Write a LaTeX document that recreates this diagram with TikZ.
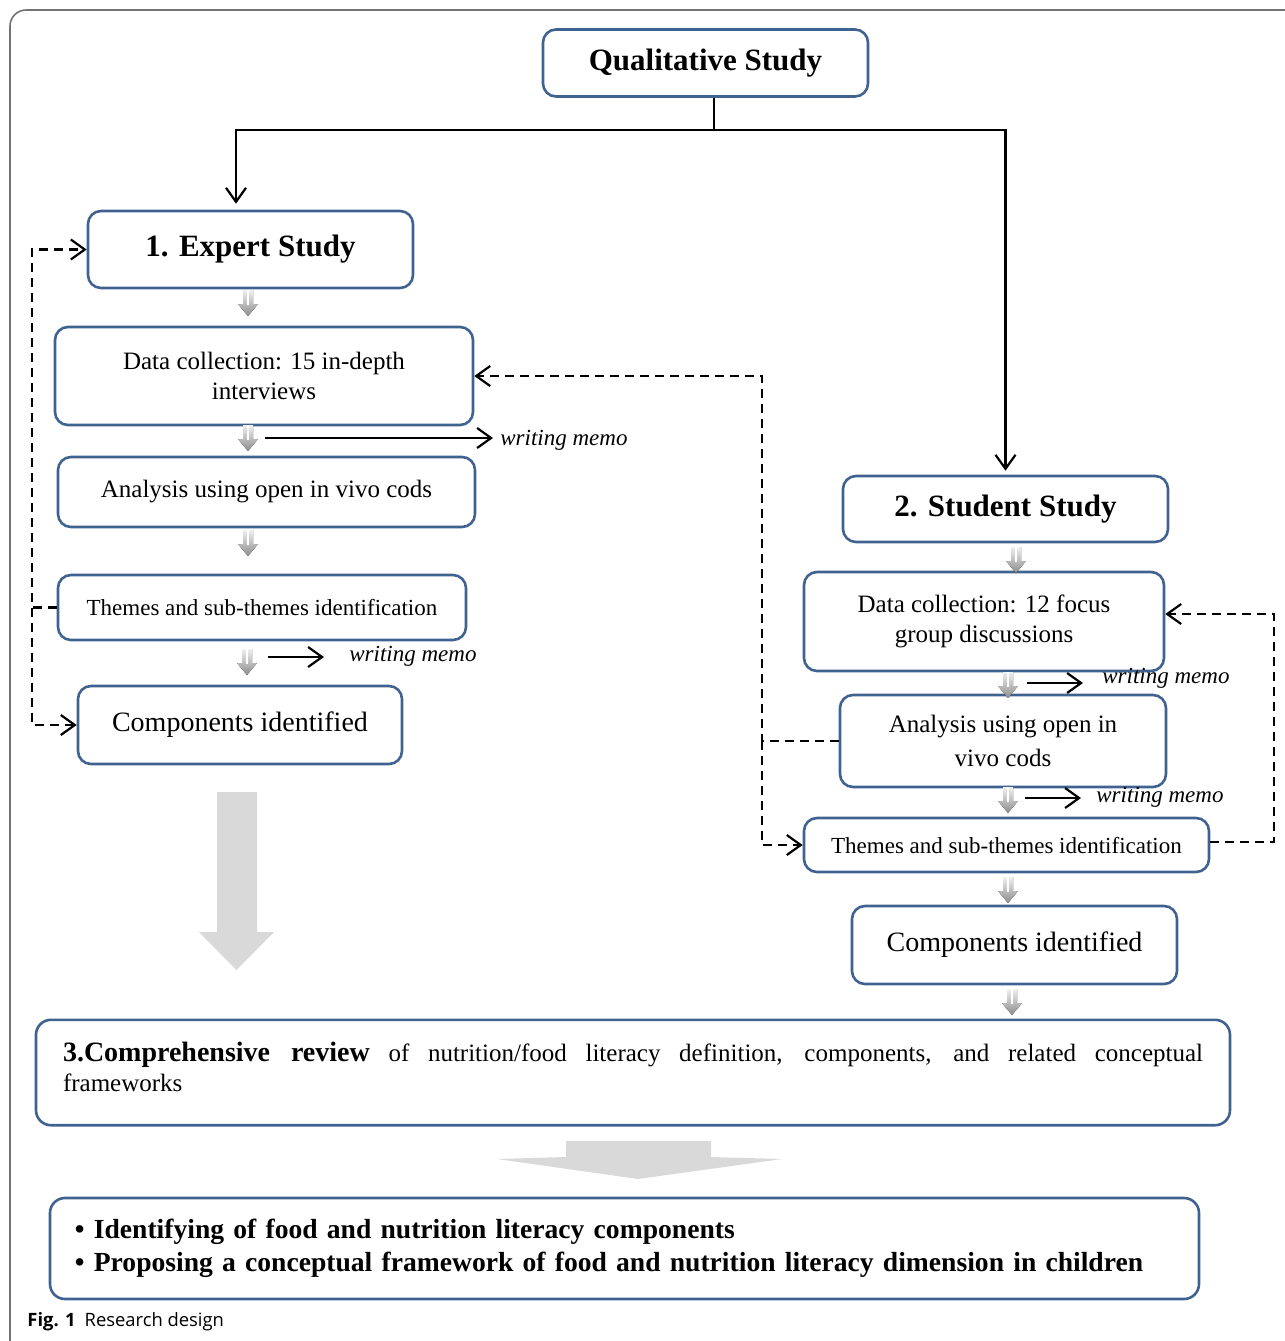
\documentclass[tikz,border=0pt]{standalone}
\usepackage{fontspec}
\setmainfont{Liberation Serif}
\newfontfamily\capfont{Open Sans}
\usepackage{tikz}
\usetikzlibrary{arrows.meta,positioning,calc}
\definecolor{boxblue}{RGB}{64,98,145}

\begin{document}
\begin{tikzpicture}[
  x=0.5pt, y=-0.5pt,
  box/.style={draw=boxblue, line width=1.3pt, rounded corners=6.5pt, align=center, inner sep=2pt},
  title/.style={box, font=\bfseries\fontsize{15.5}{18}\selectfont},
  body/.style={box, font=\fontsize{12.5}{15}\selectfont},
  thm/.style={box, font=\fontsize{11.5}{14}\selectfont},
  comp/.style={box, font=\fontsize{14}{17}\selectfont},
  memo/.style={font=\itshape\fontsize{11.5}{14}\selectfont, inner sep=0pt},
  conn/.style={draw, line width=1.1pt, -{Straight Barb[length=7pt,width=10pt]}},
  dashconn/.style={conn, dash pattern=on 4.5pt off 3pt},
  dnarr/.pic={
    \fill[top color=black!6, bottom color=black!45] (-5,-13) -- (5,-13) -- (5,1) -- (10,1) -- (0,13) -- (-10,1) -- (-5,1) -- cycle;
    \draw[white, line width=0.6pt] (0,-13) -- (0,2);
  }
]
\useasboundingbox (0,0) rectangle (1285,1341);
% outer frame
\draw[black!55, line width=0.8pt, rounded corners=8pt] (10,1400) -- (10,10) -- (1400,10);

% boxes
\node[title, minimum width=162.5pt, minimum height=33.5pt] (qual) at (705.5,63) {Qualitative Study};
\node[title, minimum width=162.5pt, minimum height=38.5pt] (expert) at (250.5,249.5) {1. Expert Study};
\node[body, minimum width=209pt, minimum height=49pt] (dc1) at (264,376) {Data collection: 15 in-depth\\interviews};
\node[body, minimum width=208.5pt, minimum height=35pt] (an1) at (266.5,492) {Analysis using open in vivo cods};
\node[thm, minimum width=204pt, minimum height=32.5pt] (th1) at (262,607.5) {Themes and sub-themes identification};
\node[comp, minimum width=162pt, minimum height=39pt] (comp1) at (240,725) {Components identified};

\node[title, minimum width=162.5pt, minimum height=33pt] (student) at (1005.5,509) {2. Student Study};
\node[body, minimum width=180pt, minimum height=49.5pt] (dc2) at (984,621.5) {Data collection: 12 focus\\group discussions};
\node[body, minimum width=163pt, minimum height=46pt, font=\fontsize{12.5}{17}\selectfont] (an2) at (1003,741) {Analysis using open in\\vivo cods};
\node[thm, minimum width=202.5pt, minimum height=27pt] (th2) at (1006.5,845) {Themes and sub-themes identification};
\node[comp, minimum width=162.5pt, minimum height=39pt] (comp2) at (1014.5,945) {Components identified};

\node[box, rounded corners=7.5pt, minimum width=597pt, text width=570pt, align=justify, inner xsep=13.5pt,
      inner ysep=11pt, text depth=21pt, font=\fontsize{12.5}{15}\selectfont] (review) at (633,1072.5)
  {{\bfseries\fontsize{14}{15}\selectfont 3.Comprehensive review} of nutrition/food literacy definition, components, and related conceptual\linebreak frameworks};
\node[box, rounded corners=7.5pt, minimum width=574.5pt, minimum height=50.5pt, text width=549.5pt, align=left,
      inner xsep=12.5pt, font=\bfseries\fontsize{13.8}{16.5}\selectfont] (final) at (624.5,1248.5)
  {\textbullet\ Identifying of food and nutrition literacy components\\
   \textbullet\ Proposing a conceptual framework of food and nutrition literacy dimension in children};

% main split
\coordinate (split) at (714,130);
\draw[line width=1.1pt] (split |- qual.south) -- (split);
\draw[conn] (split) -| ([xshift=-7.25pt,yshift=3pt]expert.north);
\draw[conn] (split) -| ([yshift=2pt]student.north);

% feedback loops
\coordinate (lx) at (32,0);
\coordinate (mx) at (762,0);
\coordinate (rx) at (1274,0);
\draw[dashconn] (th1.west) -| (lx |- expert.west) -- (expert.west);
\draw[dashconn] (lx |- th1.west) |- (comp1.west);
\draw[dashconn] (an2.west) -| (mx |- dc1.east) -- (dc1.east);
\draw[dashconn] (mx |- an2.west) |- (th2.west);
\draw[dashconn] ([yshift=1.5pt]th2.east) -| (rx |- dc2.east) |- ([yshift=3.75pt]dc2.east);

% writing memos
\coordinate (m1) at (265,438);
\coordinate (m2) at (268,657);
\coordinate (m3) at (1027,683);
\coordinate (m4) at (1025,798);
\node[memo, anchor=west] (memo1) at (500,440) {writing memo};
\node[memo, anchor=west] (memo2) at (349,656) {writing memo};
\node[memo, anchor=west] (memo3) at (1102,678) {writing memo};
\node[memo, anchor=west] (memo4) at (1096,797) {writing memo};
\draw[conn] (m1) -- ([xshift=-3.5pt]m1 -| memo1.west);
\draw[conn] (m2) -- ([xshift=-12.5pt]m2 -| memo2.west);
\draw[conn] (m3) -- ([xshift=-9.5pt]m3 -| memo3.west);
\draw[conn] (m4) -- ([xshift=-7.5pt]m4 -| memo4.west);

% small step arrows
\foreach \p in {(248,303),(248,438),(248,543),(247,662),(1016,560),(1008,685),(1008,800),(1008,890),(1012,1002)}
  \pic at \p {dnarr};

% big arrows
\fill[black!15] (217,792) -- (257,792) -- (257,932) -- (274,932) -- (236.5,970) -- (199,932) -- (217,932) -- cycle;
\fill[black!15] (566,1141) -- (711,1141) -- (711,1157) -- (782,1159) -- (638,1179) -- (497,1159) -- (566,1157) -- cycle;

% caption
\node[anchor=west, inner sep=0pt, font=\capfont\fontsize{9.2}{11}\selectfont] (cap) at (27,1322)
  {\textbf{Fig. 1}\hspace{4.5pt}Research design};
\end{tikzpicture}
\end{document}
